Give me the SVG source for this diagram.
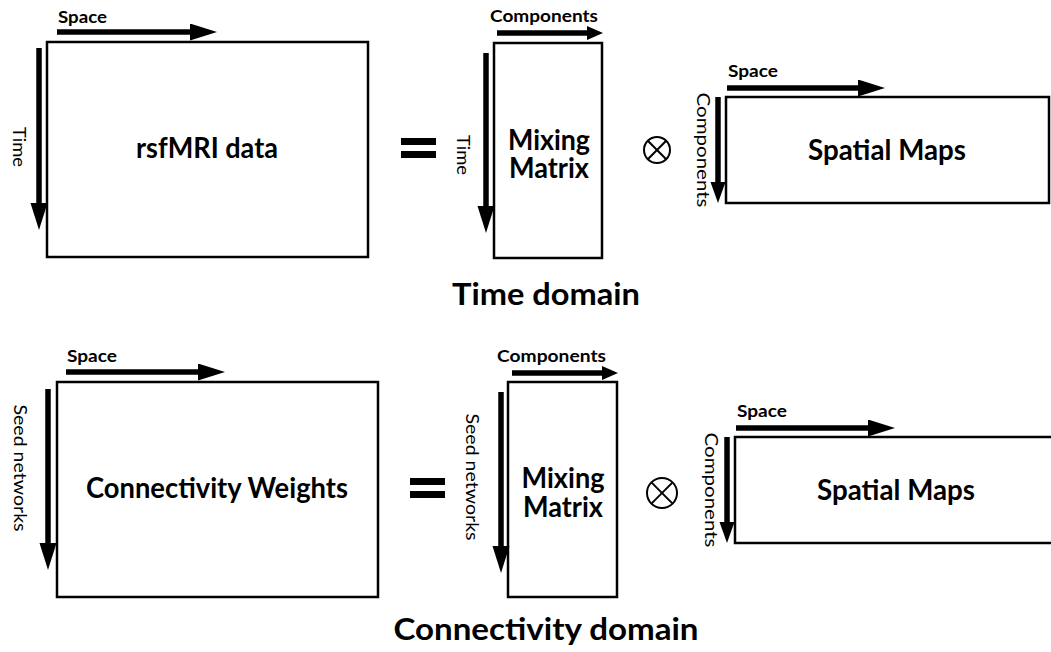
<svg xmlns="http://www.w3.org/2000/svg" width="1051" height="652" viewBox="0 0 1051 652">
<style>
.box{fill:#fff;stroke:#000;stroke-width:2.5}
.ax{stroke:#000;stroke-width:5.5;fill:none}
.lbl{font-family:Lato,"Open Sans",sans-serif;font-weight:700;font-size:17px;fill:#000}
.vl{font-family:Lato,"Open Sans",sans-serif;font-weight:400;font-size:17px;fill:#000;text-anchor:middle}
.main{font-family:Lato,"Open Sans",sans-serif;font-weight:700;font-size:28px;fill:#000;text-anchor:middle}
.title{font-family:Lato,"Open Sans",sans-serif;font-weight:700;font-size:31px;fill:#000;text-anchor:middle}
.op{fill:none;stroke:#000;stroke-width:2}
</style>
<defs>
<marker id="ah" markerUnits="userSpaceOnUse" markerWidth="28" markerHeight="18" refX="2" refY="8.5" orient="auto"><path d="M0,0 L27,8.5 L0,17 z" fill="#000"/></marker>
<marker id="ahm" markerUnits="userSpaceOnUse" markerWidth="22" markerHeight="16" refX="2" refY="7.5" orient="auto"><path d="M0,0 L21,7.5 L0,15 z" fill="#000"/></marker>
<marker id="ahs" markerUnits="userSpaceOnUse" markerWidth="17" markerHeight="15" refX="2" refY="7" orient="auto"><path d="M0,0 L16,7 L0,14 z" fill="#000"/></marker>
</defs>

<g id="rsfmri">
<rect class="box" x="47" y="42" width="321" height="215"/>
<text class="main" x="207" y="158" font-size="26.5" textLength="142" lengthAdjust="spacingAndGlyphs">rsfMRI data</text>
<text class="lbl" x="58" y="23" textLength="49" lengthAdjust="spacingAndGlyphs">Space</text>
<text class="vl" transform="translate(19,147) rotate(90)" y="6" textLength="40" lengthAdjust="spacingAndGlyphs">Time</text>
</g>

<g id="eq1"><rect x="401" y="138" width="35" height="7" fill="#000"/><rect x="401" y="151" width="35" height="7" fill="#000"/></g>

<g id="mixing1">
<rect class="box" x="494" y="43" width="108" height="215"/>
<text class="main"><tspan x="549" y="150" textLength="82" lengthAdjust="spacingAndGlyphs">Mixing</tspan><tspan x="549" y="178" textLength="80" lengthAdjust="spacingAndGlyphs">Matrix</tspan></text>
<text class="lbl" x="490" y="22" textLength="108" lengthAdjust="spacingAndGlyphs">Components</text>
<text class="vl" transform="translate(463,155) rotate(90)" y="6" textLength="40" lengthAdjust="spacingAndGlyphs">Time</text>
</g>

<g id="otimes1"><circle class="op" cx="657" cy="150" r="13"/><line class="op" x1="647.8" y1="140.8" x2="666.2" y2="159.2"/><line class="op" x1="666.2" y1="140.8" x2="647.8" y2="159.2"/></g>

<g id="spatial1">
<rect class="box" x="726" y="97" width="323" height="106"/>
<text class="main" x="887" y="160" textLength="158" lengthAdjust="spacingAndGlyphs">Spatial Maps</text>
<text class="lbl" x="728" y="77" textLength="50" lengthAdjust="spacingAndGlyphs">Space</text>
<text class="vl" transform="translate(703,150) rotate(90)" y="6" textLength="115" lengthAdjust="spacingAndGlyphs">Components</text>
</g>

<text id="title1" class="title" x="546" y="305" textLength="188" lengthAdjust="spacingAndGlyphs">Time domain</text>

<g id="connweights">
<rect class="box" x="57" y="382" width="321" height="215"/>
<text class="main" x="217" y="498" textLength="262" lengthAdjust="spacingAndGlyphs">Connectivity Weights</text>
<text class="lbl" x="67" y="362" textLength="50" lengthAdjust="spacingAndGlyphs">Space</text>
<text class="vl" transform="translate(20,468) rotate(90)" y="6" textLength="127" lengthAdjust="spacingAndGlyphs">Seed networks</text>
</g>

<g id="eq2"><rect x="410" y="478" width="35" height="7" fill="#000"/><rect x="410" y="491" width="35" height="7" fill="#000"/></g>

<g id="mixing2">
<rect class="box" x="508" y="382" width="109" height="215"/>
<text class="main"><tspan x="563" y="488" textLength="83" lengthAdjust="spacingAndGlyphs">Mixing</tspan><tspan x="563" y="517" textLength="80" lengthAdjust="spacingAndGlyphs">Matrix</tspan></text>
<text class="lbl" x="497" y="362" textLength="109" lengthAdjust="spacingAndGlyphs">Components</text>
<text class="vl" transform="translate(472,477) rotate(90)" y="6" textLength="127" lengthAdjust="spacingAndGlyphs">Seed networks</text>
</g>

<g id="otimes2"><circle class="op" cx="662" cy="493" r="15"/><line class="op" x1="651.4" y1="482.4" x2="672.6" y2="503.6"/><line class="op" x1="672.6" y1="482.4" x2="651.4" y2="503.6"/></g>

<g id="spatial2">
<rect class="box" x="735" y="437" width="330" height="106"/>
<text class="main" x="896" y="500" textLength="158" lengthAdjust="spacingAndGlyphs">Spatial Maps</text>
<text class="lbl" x="737" y="417" textLength="50" lengthAdjust="spacingAndGlyphs">Space</text>
<text class="vl" transform="translate(711,490) rotate(90)" y="6" textLength="115" lengthAdjust="spacingAndGlyphs">Components</text>
</g>

<text id="title2" class="title" x="546" y="640" textLength="305" lengthAdjust="spacingAndGlyphs">Connectivity domain</text>

<g id="connectors">
<line class="ax" x1="57" y1="32" x2="192" y2="32" marker-end="url(#ah)"/>
<line class="ax" x1="39" y1="48" x2="39" y2="205" marker-end="url(#ah)"/>
<line class="ax" x1="497" y1="33" x2="589" y2="33" marker-end="url(#ahs)"/>
<line class="ax" x1="486" y1="53" x2="486" y2="208" marker-end="url(#ah)"/>
<line class="ax" x1="727" y1="88" x2="860" y2="88" marker-end="url(#ah)"/>
<line class="ax" x1="718" y1="97" x2="718" y2="184" marker-end="url(#ahm)"/>
<line class="ax" x1="66" y1="372" x2="200" y2="372" marker-end="url(#ah)"/>
<line class="ax" x1="48" y1="389" x2="48" y2="545" marker-end="url(#ah)"/>
<line class="ax" x1="512" y1="373" x2="604" y2="373" marker-end="url(#ahs)"/>
<line class="ax" x1="501" y1="392" x2="501" y2="548" marker-end="url(#ah)"/>
<line class="ax" x1="736" y1="428" x2="870" y2="428" marker-end="url(#ah)"/>
<line class="ax" x1="727" y1="437" x2="727" y2="524" marker-end="url(#ahm)"/>
</g>
</svg>
